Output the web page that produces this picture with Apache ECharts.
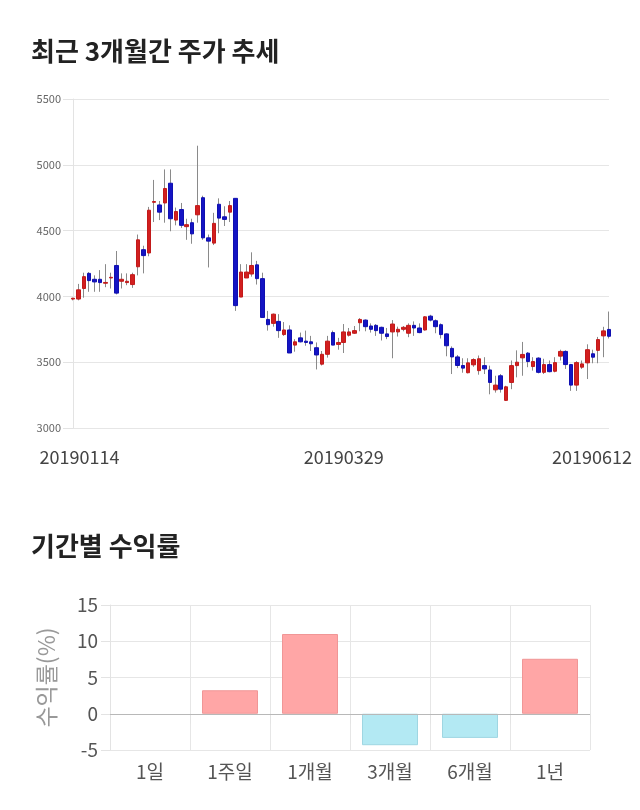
<!DOCTYPE html>
<html>
<head>
<meta charset="utf-8">
<script src="https://cdn.jsdelivr.net/npm/echarts@6/dist/echarts.min.js"></script>
<style>
html,body{margin:0;padding:0;background:#fff;}
#c{width:640px;height:810px;}
</style>
</head>
<body>
<div id="c"></div>
<script>
// ---- Data ----
const dates = [
'20190114','20190115','20190116','20190117','20190118','20190121','20190122','20190123','20190124','20190125',
'20190128','20190129','20190130','20190131','20190201','20190207','20190208','20190211','20190212','20190213',
'20190214','20190215','20190218','20190219','20190220','20190221','20190222','20190225','20190226','20190227',
'20190228','20190304','20190305','20190306','20190307','20190308','20190311','20190312','20190313','20190314',
'20190315','20190318','20190319','20190320','20190321','20190322','20190325','20190326','20190327','20190328',
'20190329','20190401','20190402','20190403','20190404','20190405','20190408','20190409','20190410','20190411',
'20190412','20190415','20190416','20190417','20190418','20190419','20190422','20190423','20190424','20190425',
'20190426','20190429','20190430','20190503','20190507','20190508','20190509','20190510','20190513','20190514',
'20190515','20190516','20190517','20190520','20190521','20190522','20190523','20190524','20190527','20190528',
'20190529','20190530','20190531','20190603','20190604','20190605','20190607','20190610','20190611','20190612'
];
const openP = [
3980,3980,4060,4175,4130,4130,4100,4140,4235,4115,
4105,4090,4225,4355,4330,4715,4695,4710,4860,4580,
4660,4530,4560,4620,4750,4445,4405,4700,4605,4640,
4745,3995,4140,4170,4240,4135,3825,3795,3810,3710,
3745,3630,3685,3660,3655,3610,3485,3560,3725,3635,
3650,3705,3720,3800,3820,3775,3780,3765,3715,3730,
3730,3750,3720,3780,3760,3745,3850,3815,3785,3715,
3605,3540,3475,3420,3480,3436,3474,3441,3290,3397,
3210,3346,3474,3533,3569,3467,3531,3423,3482,3431,
3546,3582,3482,3326,3462,3495,3564,3590,3700,3749
];
const closeP = [
3986,4050,4150,4120,4110,4105,4106,4145,4025,4130,
4115,4165,4430,4310,4655,4721,4640,4820,4590,4645,
4540,4545,4475,4690,4445,4420,4555,4595,4585,4690,
3930,4185,4185,4235,4135,3840,3785,3865,3740,3745,
3570,3655,3655,3650,3640,3555,3560,3660,3630,3650,
3730,3730,3740,3825,3770,3750,3740,3720,3695,3790,
3750,3765,3780,3760,3725,3845,3820,3770,3710,3625,
3540,3475,3455,3495,3520,3526,3449,3346,3326,3295,
3313,3474,3500,3559,3505,3505,3423,3482,3428,3497,
3582,3482,3326,3497,3487,3595,3538,3672,3738,3697
];
const lowP = [
3970,3970,3990,4035,4035,4035,4070,4060,4015,4060,
4085,4065,4160,4175,4305,4565,4580,4560,4495,4540,
4520,4430,4400,4560,4430,4220,4390,4480,4535,4565,
3890,3995,4140,4150,4090,3840,3740,3770,3685,3700,
3570,3580,3650,3625,3585,3445,3475,3535,3630,3595,
3570,3695,3715,3735,3735,3725,3700,3665,3675,3530,
3695,3735,3690,3700,3720,3740,3810,3720,3680,3545,
3410,3455,3420,3415,3465,3405,3410,3256,3269,3269,
3205,3295,3385,3397,3462,3436,3415,3410,3423,3423,
3513,3449,3282,3282,3449,3372,3492,3492,3538,3680
];
const highP = [
3990,4095,4180,4185,4160,4200,4245,4180,4345,4175,
4175,4180,4470,4385,4680,4885,4725,4965,4965,4675,
4710,4590,4590,5145,4765,4470,4635,4745,4685,4725,
4745,4245,4245,4335,4270,4180,3890,3870,3865,3805,
3780,3675,3725,3740,3700,3650,3585,3700,3740,3685,
3790,3760,3775,3835,3825,3795,3790,3770,3760,3820,
3770,3775,3795,3810,3795,3850,3860,3825,3795,3720,
3620,3555,3530,3530,3530,3551,3538,3474,3397,3410,
3321,3513,3590,3654,3577,3538,3538,3526,3513,3538,
3595,3590,3487,3508,3513,3636,3595,3692,3769,3885
];
const priceTicks = [3000, 3500, 4000, 4500, 5000, 5500];

const periods = ['1일','1주일','1개월','3개월','6개월','1년'];
const returns = [0, 3.24, 11.0, -4.34, -3.33, 7.58];
const returnTicks = [-5, 0, 5, 10, 15];

// ---- Chart ----
const FONT = '"Noto Sans CJK KR", "Noto Sans", sans-serif';
const chart = echarts.init(document.getElementById('c'), null, {renderer:'canvas'});

const wickData = dates.map((d,i)=>[openP[i], closeP[i], lowP[i], highP[i]]);
const bodyData = dates.map((d,i)=>[openP[i], closeP[i], Math.min(openP[i],closeP[i]), Math.max(openP[i],closeP[i])]);
const lastIdx = dates.length - 1;

const option = {
  animation: false,
  backgroundColor: '#fff',
  textStyle: {fontFamily: FONT},
  title: [
    {text:'최근 3개월간 주가 추세', left: 26, top: 33,
     textStyle:{fontFamily:FONT, fontSize:26, fontWeight:'bold', color:'#222'}},
    {text:'기간별 수익률', left: 26, top: 528,
     textStyle:{fontFamily:FONT, fontSize:26, fontWeight:'bold', color:'#222'}}
  ],
  grid: [
    {left:73, right:31, top:99, height:329},
    {left:110, right:50, top:605, height:145}
  ],
  xAxis: [
    {
      type:'category', gridIndex:0, data: dates, boundaryGap:false,
      axisLine:{show:false}, axisTick:{show:false}, splitLine:{show:false},
      axisLabel:{
        interval:(i)=> i===0 || i===50 || i===lastIdx,
        margin: 20, color:'#444', fontSize:18, fontFamily:FONT,
        formatter:(v, i)=> i===0 ? '{f|'+v+'}' : (i===lastIdx ? '{l|'+v+'}' : '{m|'+v+'}'),
        rich:{
          f:{fontSize:18, color:'#444', fontFamily:FONT, padding:[0,0,0,13]},
          m:{fontSize:18, color:'#444', fontFamily:FONT},
          l:{fontSize:18, color:'#444', fontFamily:FONT, padding:[0,34,0,0]}
        }
      }
    },
    {
      type:'category', gridIndex:1, data: periods,
      axisLine:{show:false},
      axisTick:{show:true, length:10, lineStyle:{color:'#e3e3e3'}},
      splitLine:{show:true, lineStyle:{color:'#e6e6e6'}},
      axisLabel:{color:'#555', fontSize:19, fontFamily:FONT, margin:12}
    }
  ],
  yAxis: [
    {
      type:'value', gridIndex:0, min:priceTicks[0], max:priceTicks[priceTicks.length-1], interval:500,
      axisLine:{show:true, lineStyle:{color:'#e3e3e3'}},
      axisTick:{show:true, length:10, lineStyle:{color:'#e3e3e3'}},
      splitLine:{show:true, lineStyle:{color:'#e6e6e6'}},
      axisLabel:{color:'#666', fontSize:11, fontFamily:FONT, margin:12, formatter:(v)=>String(v)}
    },
    {
      type:'value', gridIndex:1, min:returnTicks[0], max:returnTicks[returnTicks.length-1], interval:5,
      name:'수익률(%)', nameLocation:'middle', nameRotate:90, nameGap:52,
      nameTextStyle:{color:'#999', fontSize:23, fontFamily:FONT},
      axisLine:{show:true, lineStyle:{color:'#e3e3e3'}},
      axisTick:{show:true, length:9, lineStyle:{color:'#e3e3e3'}},
      splitLine:{show:true, lineStyle:{color:'#e6e6e6'}},
      axisLabel:{color:'#555', fontSize:19, fontFamily:FONT, margin:12}
    }
  ],
  series: [
    {
      type:'candlestick', xAxisIndex:0, yAxisIndex:0, data: wickData, barWidth:1,
      itemStyle:{color:'#8a8a8a', color0:'#8a8a8a', borderColor:'#8a8a8a', borderColor0:'#8a8a8a', borderColorDoji:'#8a8a8a', borderWidth:1}
    },
    {
      type:'candlestick', xAxisIndex:0, yAxisIndex:0, data: bodyData, barWidth:4,
      itemStyle:{color:'#d21f1f', color0:'#1414c4', borderColor:'#c21a1a', borderColor0:'#1010b0', borderColorDoji:'#c21a1a', borderWidth:1}
    },
    {
      type:'bar', xAxisIndex:1, yAxisIndex:1, barWidth:'70%',
      data: returns.map(v => ({
        value: v,
        itemStyle: v > 0
          ? {color:'#ffa6a6', borderColor:'#f09696', borderWidth:1}
          : (v < 0 ? {color:'#b3e9f3', borderColor:'#9fd6e2', borderWidth:1}
                   : {color:'rgba(0,0,0,0)', borderWidth:0})
      })),
      markLine:{
        silent:true, symbol:'none', label:{show:false},
        lineStyle:{color:'#b8b8b8', type:'solid', width:1},
        data:[{yAxis:0}]
      }
    }
  ]
};
chart.setOption(option);
</script>
</body>
</html>
